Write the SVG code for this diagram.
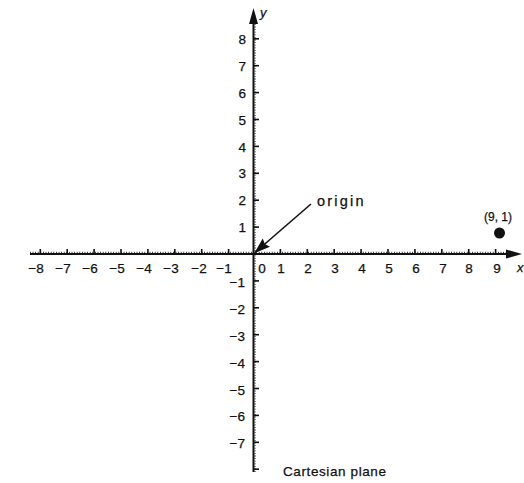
<svg xmlns="http://www.w3.org/2000/svg" width="524" height="483" viewBox="0 0 524 483">
<style>
text{font-family:"Liberation Sans",Arial,sans-serif;fill:#111;stroke:#111;stroke-width:0.25}
.num{font-size:13.5px}
.ax{stroke:#111;stroke-width:2;fill:none}
.minor{stroke:#111;stroke-width:1.2;stroke-dasharray:0.8 1.8;fill:none}
.tick{stroke:#111;stroke-width:1.6}
.lbl{font-style:italic;font-size:13px}
</style>
<defs>
<marker id="ah" markerWidth="16" markerHeight="12" refX="15" refY="6" orient="auto" markerUnits="userSpaceOnUse">
<path d="M0,0.5 L16,6 L0,11.5 L2,6 Z" fill="#111"/>
</marker>
</defs>
<rect width="524" height="483" fill="#fff"/>
<g id="x-axis">
<line class="ax" x1="30" y1="254" x2="510" y2="254"/>
<line class="minor" x1="30" y1="252.4" x2="508" y2="252.4"/>
<polygon points="522,254 506,249.5 506,258.5" fill="#111"/>
<g class="tick">
<line x1="40.3" y1="254" x2="40.3" y2="249"/>
<line x1="67.2" y1="254" x2="67.2" y2="249"/>
<line x1="94.1" y1="254" x2="94.1" y2="249"/>
<line x1="121" y1="254" x2="121" y2="249"/>
<line x1="147.9" y1="254" x2="147.9" y2="249"/>
<line x1="174.8" y1="254" x2="174.8" y2="249"/>
<line x1="201.7" y1="254" x2="201.7" y2="249"/>
<line x1="228.6" y1="254" x2="228.6" y2="249"/>
<line x1="280.4" y1="254" x2="280.4" y2="249"/>
<line x1="307.3" y1="254" x2="307.3" y2="249"/>
<line x1="334.2" y1="254" x2="334.2" y2="249"/>
<line x1="361.1" y1="254" x2="361.1" y2="249"/>
<line x1="388" y1="254" x2="388" y2="249"/>
<line x1="414.9" y1="254" x2="414.9" y2="249"/>
<line x1="441.8" y1="254" x2="441.8" y2="249"/>
<line x1="468.7" y1="254" x2="468.7" y2="249"/>
<line x1="495.6" y1="254" x2="495.6" y2="249"/>
</g>
<g class="num" text-anchor="middle">
<text x="36" y="273">−8</text>
<text x="63" y="273">−7</text>
<text x="90" y="273">−6</text>
<text x="117" y="273">−5</text>
<text x="144" y="273">−4</text>
<text x="171" y="273">−3</text>
<text x="199" y="273">−2</text>
<text x="224" y="273">−1</text>
<text x="262" y="273">0</text>
<text x="281" y="273">1</text>
<text x="308" y="273">2</text>
<text x="335" y="273">3</text>
<text x="362" y="273">4</text>
<text x="389" y="273">5</text>
<text x="416" y="273">6</text>
<text x="443" y="273">7</text>
<text x="469" y="273">8</text>
<text x="497" y="273">9</text>
</g>
<text class="lbl" x="517" y="272">x</text>
</g>
<g id="y-axis">
<line class="ax" x1="253.5" y1="472" x2="253.5" y2="20"/>
<line class="minor" x1="255.1" y1="472" x2="255.1" y2="22"/>
<polygon points="253.5,8 249,24 258,24" fill="#111"/>
<g class="tick">
<line x1="253.5" y1="38.8" x2="259" y2="38.8"/>
<line x1="253.5" y1="65.7" x2="259" y2="65.7"/>
<line x1="253.5" y1="92.6" x2="259" y2="92.6"/>
<line x1="253.5" y1="119.5" x2="259" y2="119.5"/>
<line x1="253.5" y1="146.4" x2="259" y2="146.4"/>
<line x1="253.5" y1="173.3" x2="259" y2="173.3"/>
<line x1="253.5" y1="200.2" x2="259" y2="200.2"/>
<line x1="253.5" y1="227.1" x2="259" y2="227.1"/>
<line x1="253.5" y1="280.9" x2="259" y2="280.9"/>
<line x1="253.5" y1="307.8" x2="259" y2="307.8"/>
<line x1="253.5" y1="334.7" x2="259" y2="334.7"/>
<line x1="253.5" y1="361.6" x2="259" y2="361.6"/>
<line x1="253.5" y1="388.5" x2="259" y2="388.5"/>
<line x1="253.5" y1="415.4" x2="259" y2="415.4"/>
<line x1="253.5" y1="442.3" x2="259" y2="442.3"/>
<line x1="253.5" y1="469.2" x2="259" y2="469.2"/>
</g>
<g class="num" text-anchor="end">
<text x="246" y="44">8</text>
<text x="246" y="71">7</text>
<text x="246" y="98">6</text>
<text x="246" y="125">5</text>
<text x="246" y="152">4</text>
<text x="246" y="178">3</text>
<text x="246" y="205">2</text>
<text x="246" y="232">1</text>
<text x="245" y="287">−1</text>
<text x="245" y="314">−2</text>
<text x="245" y="341">−3</text>
<text x="245" y="368">−4</text>
<text x="245" y="395">−5</text>
<text x="245" y="421">−6</text>
<text x="245" y="448">−7</text>
</g>
<text class="lbl" x="260" y="17">y</text>
</g>
<g id="origin">
<text x="317" y="206" font-size="14.5" letter-spacing="2.2">origin</text>
</g>
<g id="point-9-1">
<circle cx="499.5" cy="233" r="5.5" fill="#111"/>
<text x="498" y="221" font-size="12" text-anchor="middle">(9, 1)</text>
</g>
<g id="title">
<text x="283" y="476" font-size="13.5" letter-spacing="0.6">Cartesian plane</text>
</g>
<g id="connectors">
<line x1="311" y1="204" x2="255" y2="252.5" stroke="#111" stroke-width="1.6" marker-end="url(#ah)"/>
</g>
</svg>
